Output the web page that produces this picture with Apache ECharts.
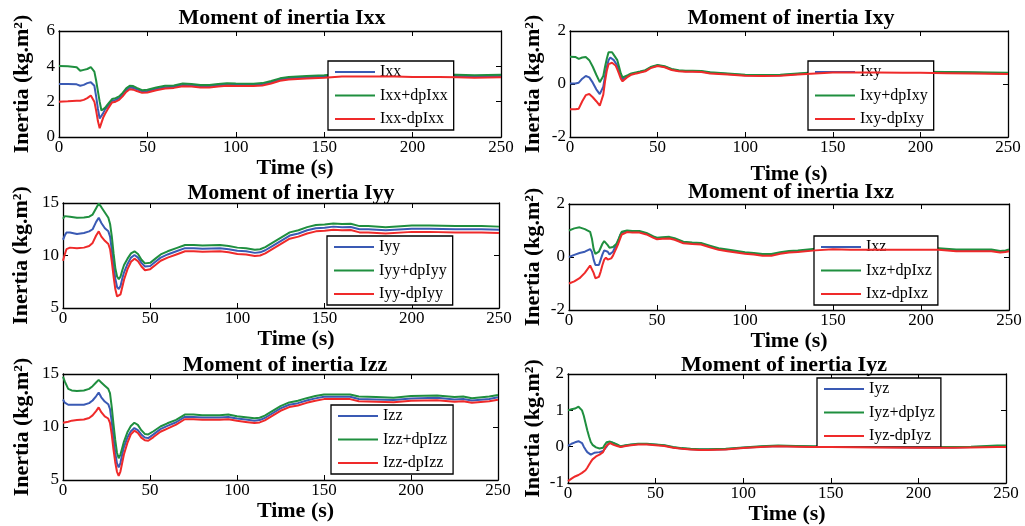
<!DOCTYPE html>
<html>
<head>
<meta charset="utf-8">
<script src="https://cdn.jsdelivr.net/npm/echarts@6/dist/echarts.min.js"></script>
<style>html,body{margin:0;padding:0;background:#fff}#c{width:1025px;height:526px}</style>
</head>
<body>
<div id="c"></div>
<script>
// ---------- DATA ----------
const xTicks = [0, 50, 100, 150, 200, 250];

const tIxx = [0,5,10,12,14,16,18,19,20,21,22,23,24,25,26,28,30,32,34,36,38,40,42,44,47,50,55,60,65,70,75,80,85,90,95,100,110,115,120,125,130,140,150,160,175,190,200,215,225,235,250];
const Ixx = [3.0,3.0,2.98,2.9,2.95,3.05,3.1,3.1,2.9,2.3,1.6,1.05,1.15,1.35,1.55,1.8,2.05,2.1,2.2,2.4,2.65,2.8,2.78,2.7,2.58,2.6,2.72,2.82,2.85,2.95,2.93,2.88,2.88,2.93,2.97,2.95,2.95,2.98,3.1,3.25,3.33,3.38,3.43,3.5,3.5,3.5,3.47,3.47,3.45,3.43,3.45];
const IxxPlus = [4.02,4.0,3.95,3.75,3.8,3.85,3.95,3.9,3.7,3.2,2.6,2.0,1.5,1.55,1.65,1.9,2.15,2.2,2.3,2.5,2.75,2.9,2.88,2.78,2.65,2.67,2.8,2.9,2.92,3.03,3.0,2.95,2.95,3.0,3.04,3.03,3.02,3.05,3.17,3.32,3.4,3.45,3.5,3.57,3.57,3.57,3.54,3.54,3.52,3.5,3.52];
const IxxMinus = [2.0,2.02,2.05,2.05,2.1,2.2,2.35,2.3,2.0,1.5,0.9,0.5,0.8,1.1,1.3,1.65,1.95,2.0,2.1,2.3,2.55,2.7,2.68,2.6,2.5,2.52,2.65,2.75,2.78,2.87,2.86,2.8,2.8,2.86,2.9,2.88,2.88,2.91,3.03,3.18,3.26,3.31,3.36,3.43,3.43,3.43,3.4,3.4,3.38,3.36,3.38];

const tIxy = [0,3,5,7,9,11,13,15,17,18,19,20,21,22,23,24,25,26,27,28,29,30,31,33,35,38,40,43,46,50,54,58,62,66,70,75,80,90,100,110,120,130,140,150,160,175,190,200,215,230,250];
const Ixy = [0.02,0.02,0.05,0.2,0.3,0.25,0.05,-0.2,-0.38,-0.35,-0.1,0.3,0.65,0.9,1.0,0.98,0.9,0.85,0.7,0.5,0.3,0.17,0.2,0.3,0.38,0.42,0.45,0.5,0.62,0.7,0.65,0.55,0.5,0.48,0.48,0.47,0.42,0.38,0.33,0.32,0.33,0.38,0.42,0.45,0.45,0.45,0.44,0.44,0.43,0.42,0.4];
const IxyPlus = [1.03,1.02,0.95,1.0,1.02,0.9,0.65,0.35,0.07,0.08,0.3,0.65,0.95,1.2,1.27,1.2,1.1,1.05,0.9,0.65,0.4,0.25,0.25,0.33,0.4,0.44,0.47,0.52,0.64,0.72,0.67,0.57,0.52,0.5,0.5,0.49,0.44,0.4,0.35,0.34,0.35,0.4,0.44,0.47,0.47,0.47,0.46,0.46,0.45,0.44,0.42];
const IxyMinus = [-0.95,-0.95,-0.93,-0.65,-0.42,-0.38,-0.5,-0.65,-0.82,-0.75,-0.4,0.1,0.5,0.75,0.82,0.8,0.75,0.7,0.55,0.38,0.2,0.1,0.15,0.27,0.35,0.4,0.43,0.48,0.6,0.68,0.63,0.53,0.48,0.46,0.46,0.45,0.4,0.36,0.31,0.3,0.31,0.36,0.4,0.43,0.43,0.43,0.42,0.42,0.41,0.4,0.38];

const tIyy = [0,1,2,4,8,12,15,17,19,20.5,22,24,26,27,28,29,30,31,32,33,34,35,37,39,41,43,45,47,48,50,53,56,60,65,70,75,80,90,95,100,105,110,113,116,120,125,130,135,140,145,150,155,160,165,170,175,185,200,210,225,240,250];
const Iyy = [11.5,11.9,12.2,12.2,12.05,12.15,12.3,12.5,13.2,13.6,13.1,12.6,12.3,11.8,10.5,9.0,7.8,7.0,6.8,7.1,7.8,8.4,9.2,9.8,10.05,9.8,9.3,8.95,8.9,9.0,9.4,9.8,10.1,10.4,10.7,10.7,10.65,10.7,10.6,10.45,10.4,10.25,10.3,10.5,10.9,11.4,11.9,12.1,12.4,12.6,12.65,12.75,12.7,12.72,12.5,12.5,12.4,12.55,12.55,12.5,12.5,12.45];
const IyyPlus = [13.5,13.75,13.8,13.7,13.6,13.62,13.7,13.9,14.5,14.95,14.6,14.1,13.6,13.0,11.8,10.2,8.8,8.0,7.75,8.0,8.6,9.1,9.7,10.2,10.4,10.15,9.6,9.25,9.2,9.3,9.7,10.1,10.4,10.7,11.0,11.0,10.95,11.0,10.9,10.75,10.7,10.55,10.6,10.8,11.2,11.7,12.2,12.4,12.7,12.9,12.95,13.05,13.0,13.02,12.8,12.8,12.7,12.85,12.85,12.8,12.8,12.75];
const IyyMinus = [9.5,10.1,10.6,10.75,10.7,10.75,10.9,11.2,11.9,12.3,11.8,11.4,11.1,10.6,9.4,8.0,6.8,6.1,5.95,6.3,7.0,7.7,8.7,9.4,9.7,9.45,8.95,8.6,8.6,8.7,9.1,9.5,9.8,10.1,10.4,10.4,10.35,10.4,10.3,10.15,10.1,9.95,10.0,10.2,10.6,11.1,11.6,11.8,12.1,12.3,12.35,12.45,12.4,12.42,12.2,12.2,12.1,12.25,12.25,12.2,12.2,12.15];

const tIxz = [0,3,6,9,12,13,14,15,16,17,18,19,20,21,22,23,24,25,26,27,28,29,30,31,33,36,40,44,48,50,53,57,60,65,70,75,80,85,90,100,105,110,115,120,125,130,140,150,160,175,190,200,210,220,230,240,245,248,250];
const Ixz = [0.0,0.08,0.15,0.2,0.3,0.2,-0.1,-0.3,-0.35,-0.3,-0.1,0.1,0.25,0.3,0.2,0.1,0.1,0.2,0.35,0.47,0.6,0.8,0.93,1.0,0.97,0.95,0.95,0.88,0.75,0.7,0.72,0.73,0.68,0.55,0.52,0.5,0.4,0.3,0.25,0.15,0.12,0.08,0.08,0.15,0.2,0.22,0.28,0.32,0.3,0.3,0.3,0.3,0.3,0.25,0.25,0.25,0.2,0.22,0.25];
const IxzPlus = [1.0,1.08,1.12,1.05,0.95,0.7,0.3,0.12,0.1,0.2,0.35,0.5,0.6,0.58,0.45,0.35,0.35,0.38,0.4,0.5,0.65,0.82,0.95,1.02,1.0,0.98,0.98,0.91,0.78,0.73,0.75,0.76,0.71,0.58,0.55,0.53,0.43,0.33,0.28,0.18,0.15,0.11,0.11,0.18,0.23,0.25,0.31,0.35,0.33,0.33,0.33,0.33,0.33,0.28,0.28,0.28,0.23,0.25,0.28];
const IxzMinus = [-1.0,-0.92,-0.8,-0.6,-0.32,-0.35,-0.6,-0.8,-0.82,-0.75,-0.55,-0.3,-0.1,-0.02,-0.1,-0.12,-0.05,0.05,0.2,0.35,0.5,0.68,0.85,0.92,0.94,0.92,0.92,0.85,0.72,0.67,0.69,0.7,0.65,0.52,0.49,0.47,0.37,0.27,0.22,0.12,0.09,0.05,0.05,0.12,0.17,0.19,0.25,0.29,0.27,0.27,0.27,0.27,0.27,0.22,0.22,0.22,0.17,0.19,0.22];

const tIzz = [0,1,3,5,8,12,15,17,19,20.5,22,24,26,27,28,29,30,31,32,33,34,35,37,39,41,43,45,47,49,52,56,60,65,70,75,80,90,95,100,105,110,113,116,120,125,130,135,140,145,150,155,160,165,170,180,190,200,215,225,230,235,245,250];
const Izz = [12.6,12.3,12.1,12.1,12.1,12.1,12.25,12.5,12.9,13.25,12.8,12.4,12.15,11.7,10.5,9.0,7.6,6.6,6.2,6.6,7.4,8.1,9.0,9.6,9.9,9.7,9.3,9.0,8.95,9.3,9.8,10.1,10.45,10.95,10.95,10.9,10.9,10.95,10.8,10.7,10.6,10.65,10.85,11.25,11.75,12.1,12.25,12.5,12.7,12.85,12.85,12.85,12.85,12.65,12.6,12.55,12.7,12.75,12.6,12.65,12.5,12.65,12.8];
const IzzPlus = [14.75,14.3,13.6,13.45,13.4,13.45,13.6,13.85,14.2,14.45,14.2,13.9,13.6,13.2,11.9,10.3,8.8,7.6,7.05,7.4,8.0,8.6,9.5,10.1,10.4,10.2,9.7,9.35,9.3,9.6,10.05,10.35,10.67,11.17,11.17,11.12,11.12,11.17,11.02,10.92,10.82,10.87,11.07,11.47,11.97,12.32,12.47,12.72,12.92,13.07,13.07,13.07,13.07,12.87,12.82,12.77,12.92,12.97,12.82,12.87,12.72,12.87,13.02];
const IzzMinus = [10.4,10.35,10.5,10.6,10.65,10.7,10.85,11.1,11.5,11.85,11.4,11.0,10.8,10.4,9.3,7.9,6.7,5.8,5.4,5.8,6.6,7.4,8.5,9.3,9.65,9.45,9.0,8.75,8.7,9.05,9.55,9.85,10.23,10.73,10.73,10.68,10.68,10.73,10.58,10.48,10.38,10.43,10.63,11.03,11.53,11.88,12.03,12.28,12.48,12.63,12.63,12.63,12.63,12.43,12.38,12.33,12.48,12.53,12.38,12.43,12.28,12.43,12.58];

const tIyz = [0,2,4,6,7,8,9,10,11,12,13,14,15,16,18,20,21,22,23,24,25,26,28,30,33,36,40,45,50,55,60,65,70,75,80,90,100,110,120,130,140,150,175,200,220,230,245,250];
const Iyz = [0.02,0.08,0.12,0.15,0.15,0.1,0.0,-0.08,-0.15,-0.2,-0.22,-0.2,-0.17,-0.15,-0.15,-0.12,-0.08,0.0,0.08,0.12,0.12,0.1,0.05,0.0,0.03,0.05,0.07,0.07,0.05,0.03,-0.02,-0.05,-0.07,-0.08,-0.08,-0.07,-0.03,0.0,0.02,0.01,0.0,0.0,-0.01,-0.02,-0.02,-0.01,0.0,0.0];
const IyzPlus = [1.0,1.03,1.05,1.1,1.08,1.0,0.85,0.65,0.45,0.28,0.13,0.05,0.0,-0.02,-0.05,-0.03,0.05,0.12,0.15,0.14,0.12,0.1,0.06,0.01,0.04,0.06,0.08,0.08,0.06,0.04,-0.01,-0.04,-0.06,-0.07,-0.07,-0.06,-0.02,0.01,0.03,0.02,0.01,0.01,0.0,-0.01,-0.01,0.0,0.03,0.03];
const IyzMinus = [-0.95,-0.88,-0.82,-0.78,-0.75,-0.72,-0.72,-0.65,-0.58,-0.5,-0.42,-0.35,-0.3,-0.27,-0.22,-0.15,-0.05,0.03,0.08,0.1,0.08,0.05,0.02,-0.01,0.02,0.04,0.06,0.06,0.04,0.02,-0.03,-0.06,-0.08,-0.09,-0.09,-0.08,-0.04,-0.01,0.01,0.0,-0.01,-0.01,-0.02,-0.03,-0.03,-0.02,-0.01,-0.01];

// ---------- LAYOUT ----------
const FONT = '"Liberation Serif","Times New Roman",serif';
const COLORS = ['#3a5ab4', '#1f8f3f', '#ef2a2a'];
const panels = [
  {n:'Ixx', t:tIxx, s:[Ixx,IxxPlus,IxxMinus], g:[59,31,442,106], y:[0,6,2], lg:[328,61], tt:[282,7], xg:12, xs:30, yg:26},
  {n:'Ixy', t:tIxy, s:[Ixy,IxyPlus,IxyMinus], g:[570,31,438,106], y:[-2,2,2], lg:[808,61], tt:[791,7], xg:26, xs:0, yg:26},
  {n:'Iyy', t:tIyy, s:[Iyy,IyyPlus,IyyMinus], g:[63,203,436,105], y:[5,15,5], lg:[327,236], tt:[291,182], xg:15, xs:30, yg:31},
  {n:'Ixz', t:tIxz, s:[Ixz,IxzPlus,IxzMinus], g:[569,204,440,106], y:[-2,2,2], lg:[814,236], tt:[791,181], xg:13, xs:0, yg:25},
  {n:'Izz', t:tIzz, s:[Izz,IzzPlus,IzzMinus], g:[63,374,435,106], y:[5,15,5], lg:[331,405], tt:[285,354], xg:15, xs:30, yg:30},
  {n:'Iyz', t:tIyz, s:[Iyz,IyzPlus,IyzMinus], g:[568,374,438,109], y:[-1,2,1], lg:[817,378], tt:[784,354], xg:13, xs:0, yg:24}
];

const axisLine = {show:true, onZero:false, lineStyle:{color:'#000', width:1.3}};
const axisTick = {show:true, inside:true, length:5, lineStyle:{color:'#000', width:1}};
const option = {animation:false, backgroundColor:'#fff', title:[], grid:[], xAxis:[], yAxis:[], legend:[], series:[]};

panels.forEach((p, i) => {
  option.grid.push({left:p.g[0], top:p.g[1], width:p.g[2], height:p.g[3], containLabel:false, show:false});
  option.title.push({text:'Moment of inertia ' + p.n, left:p.tt[0], top:p.tt[1], textAlign:'center', padding:0,
    textStyle:{fontFamily:FONT, fontWeight:'bold', fontSize:22, color:'#000'}});
  const xb = {type:'value', gridIndex:i, min:xTicks[0], max:xTicks[xTicks.length-1], interval:xTicks[1]-xTicks[0],
    axisLine, axisTick, splitLine:{show:false}};
  option.xAxis.push(Object.assign({}, xb, {position:'bottom',
    axisLabel:{color:'#000', fontFamily:FONT, fontSize:17, margin:2},
    name:'Time (s)', nameLocation:'middle', nameGap:p.xg,
    nameTextStyle:{fontFamily:FONT, fontWeight:'bold', fontSize:22, color:'#000', padding:[0,0,0,p.xs]}}));
  option.xAxis.push(Object.assign({}, xb, {position:'top', axisLabel:{show:false}}));
  const yb = {type:'value', gridIndex:i, min:p.y[0], max:p.y[1], interval:p.y[2], axisLine, axisTick, splitLine:{show:false}};
  option.yAxis.push(Object.assign({}, yb, {position:'left',
    axisLabel:{color:'#000', fontFamily:FONT, fontSize:17, margin:4},
    name:'Inertia (kg.m²)', nameLocation:'middle', nameGap:p.yg, nameRotate:90,
    nameTextStyle:{fontFamily:FONT, fontWeight:'bold', fontSize:22, color:'#000'}}));
  option.yAxis.push(Object.assign({}, yb, {position:'right', axisLabel:{show:false}}));
  const names = [p.n, p.n + '+dp' + p.n, p.n + '-dp' + p.n];
  option.legend.push({data:names, orient:'vertical', left:p.lg[0], top:p.lg[1],
    backgroundColor:'#fff', borderColor:'#000', borderWidth:1.3, padding:[3,6,3,7],
    icon:'rect', itemWidth:40, itemHeight:2, itemGap:7.5, selectedMode:false,
    textStyle:{fontFamily:FONT, fontSize:16, color:'#000', lineHeight:16}});
  names.forEach((nm, k) => {
    option.series.push({type:'line', name:nm, xAxisIndex:2*i, yAxisIndex:2*i, symbol:'none', showSymbol:false,
      data:p.t.map((x, j) => [x, p.s[k][j]]),
      lineStyle:{color:COLORS[k], width:2}, itemStyle:{color:COLORS[k]}, z:2+k});
  });
});

const chart = echarts.init(document.getElementById('c'), null, {renderer:'canvas', width:1025, height:526});
chart.setOption(option);
</script>
</body>
</html>
